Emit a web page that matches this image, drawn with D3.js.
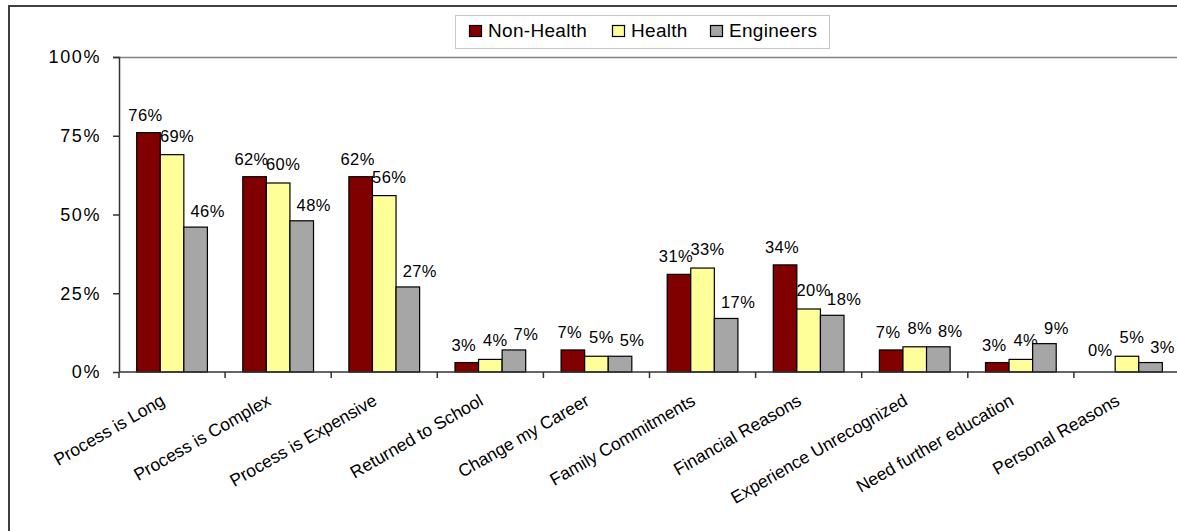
<!DOCTYPE html>
<html>
<head>
<meta charset="utf-8">
<script src="https://cdn.jsdelivr.net/npm/d3@7"></script>
<style>
  body { margin: 0; background: #fff; }
  svg { display: block; font-family: "Liberation Sans", Arial, sans-serif; }
</style>
</head>
<body>
<svg width="1177" height="531"></svg>
<script>
const categories = [
  "Process is Long", "Process is Complex", "Process is Expensive",
  "Returned to School", "Change my Career", "Family Commitments",
  "Financial Reasons", "Experience Unrecognized", "Need further education",
  "Personal Reasons"
];
const series = ["Non-Health", "Health", "Engineers"];
const colors = ["#800000", "#ffff99", "#a6a6a6"];

const nonHealth = [76, 62, 62, 3, 7, 31, 34, 7, 3, 0];
const health = [69, 60, 56, 4, 5, 33, 20, 8, 4, 5];
const engineers = [46, 48, 27, 7, 5, 17, 18, 8, 9, 3];
const yTicks = [0, 25, 50, 75, 100];

const values = [nonHealth, health, engineers];
const svg = d3.select("svg");

// outer frame (runs past the right and bottom edges)
svg.append("rect")
  .attr("x", 9).attr("y", 6)
  .attr("width", 1200).attr("height", 560)
  .attr("fill", "none").attr("stroke", "#404040").attr("stroke-width", 2);

const margin = { top: 57, left: 119 };
const plotW = 1061;
const plotH = 315;

const graph = svg.append("g")
  .attr("transform", `translate(${margin.left},${margin.top})`);

const x = d3.scaleBand().domain(categories).range([0, plotW]);
const xs = d3.scaleBand().domain(series).range([0, x.bandwidth()])
  .paddingInner(0).paddingOuter(0.75);
const y = d3.scaleLinear().domain([0, 100]).range([plotH, 0]);

// plot border (top edge visible)
graph.append("line")
  .attr("x1", 0).attr("x2", plotW + 10)
  .attr("y1", 0.5).attr("y2", 0.5)
  .attr("stroke", "#808080").attr("stroke-width", 1.3);

// bars
const groups = graph.selectAll("g.cat")
  .data(categories)
  .enter()
  .append("g")
  .attr("class", "cat")
  .attr("transform", (d) => `translate(${x(d)},0)`);

const labelDx = [-3, 5, 12];
const labelDy = [12, 13, 10];

groups.each(function (cat, i) {
  const g = d3.select(this);
  series.forEach((s, j) => {
    const v = values[j][i];
    if (v > 0) {
      g.append("rect")
        .attr("x", xs(s))
        .attr("y", y(v))
        .attr("width", xs.bandwidth())
        .attr("height", plotH - y(v))
        .attr("fill", colors[j])
        .attr("stroke", "#000")
        .attr("stroke-width", 1.2);
    }
    g.append("text")
      .attr("x", xs(s) + xs.bandwidth() / 2 + labelDx[j])
      .attr("y", y(v) - (v > 0 ? labelDy[j] : 16))
      .attr("text-anchor", "middle")
      .attr("font-size", 16.5)
      .attr("letter-spacing", 0.4)
      .attr("fill", "#000")
      .text(v + "%");
  });
});

// axes
const yAxis = d3.axisLeft(y).tickValues(yTicks).tickSize(6).tickPadding(12)
  .tickFormat((d) => d + "%");
const yAxisGroup = graph.append("g").call(yAxis);
yAxisGroup.select(".domain").attr("stroke", "#333").attr("stroke-width", 1.5)
  .attr("d", `M-6,0.5H0.5V${plotH}`);
yAxisGroup.selectAll("line").attr("stroke", "#333").attr("stroke-width", 1.5);
yAxisGroup.selectAll("text")
  .attr("font-size", 18).attr("letter-spacing", 1.6)
  .attr("font-family", "Liberation Sans, Arial, sans-serif")
  .attr("fill", "#000");

const xAxisGroup = graph.append("g").attr("transform", `translate(0,${plotH})`);
xAxisGroup.append("line")
  .attr("x1", 0).attr("x2", plotW + 10)
  .attr("stroke", "#333").attr("stroke-width", 1.5);
xAxisGroup.selectAll("line.tick")
  .data(categories)
  .enter()
  .append("line")
  .attr("class", "tick")
  .attr("x1", (d) => x(d)).attr("x2", (d) => x(d))
  .attr("y1", 0).attr("y2", 6)
  .attr("stroke", "#333").attr("stroke-width", 1.5);
xAxisGroup.selectAll("text")
  .data(categories)
  .enter()
  .append("text")
  .attr("transform", (d) => `translate(${x(d) + x.bandwidth() / 2 - 6},${32}) rotate(-30)`)
  .attr("text-anchor", "end")
  .attr("font-size", 17.5)
  .attr("fill", "#000")
  .text((d) => d);

// legend
const legend = svg.append("g");
legend.append("rect")
  .attr("x", 455.5).attr("y", 15.5)
  .attr("width", 374).attr("height", 33)
  .attr("fill", "#fff").attr("stroke", "#c8c8c8");
const legendX = [469, 612, 710];
series.forEach((s, j) => {
  legend.append("rect")
    .attr("x", legendX[j] + 0.5).attr("y", 25.5)
    .attr("width", 12).attr("height", 11)
    .attr("fill", colors[j]).attr("stroke", "#000").attr("stroke-width", 1.2);
  legend.append("text")
    .attr("x", legendX[j] + 19).attr("y", 37)
    .attr("font-size", 19)
    .attr("letter-spacing", 0.3)
    .attr("fill", "#000")
    .text(s);
});
</script>
</body>
</html>
